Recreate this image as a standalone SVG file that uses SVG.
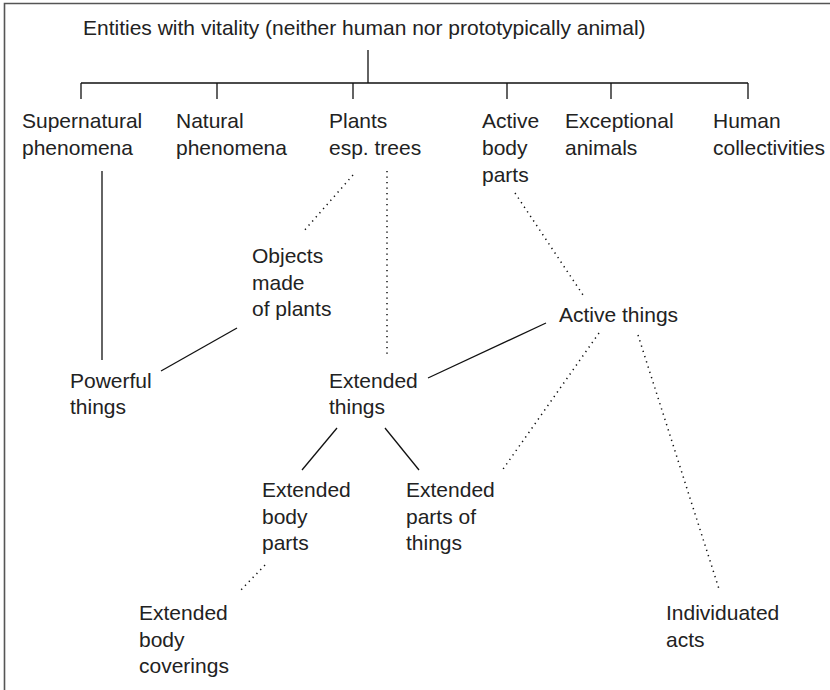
<svg xmlns="http://www.w3.org/2000/svg" width="830" height="690" viewBox="0 0 830 690">
<style>
text{font-family:"Liberation Sans",Arial,Helvetica,sans-serif;font-size:21px;fill:#222}
.s{stroke:#111;stroke-width:1.3;fill:none}
.d{stroke:#111;stroke-width:1.5;fill:none;stroke-dasharray:1.3 4.2}
.f{stroke:#555;stroke-width:1.6;fill:none}
</style>
<rect width="830" height="690" fill="#fff"/>
<path class="f" d="M4.5,690 V3.5 H830"/>
<g id="connectors">
<path class="s" d="M368,50 V83 M81,83 H748 M81,83 V99 M217,83 V99 M353,83 V99 M507,83 V99 M611,83 V99 M748,83 V99"/>
<line class="s" x1="102" y1="171" x2="102" y2="360"/>
<line class="d" x1="353" y1="175" x2="303" y2="232"/>
<line class="s" x1="237" y1="328" x2="161" y2="371"/>
<line class="d" x1="387" y1="171" x2="387" y2="357"/>
<line class="d" x1="515" y1="193" x2="583" y2="295"/>
<line class="s" x1="428" y1="378" x2="546" y2="323"/>
<line class="d" x1="599" y1="333" x2="501" y2="472"/>
<line class="d" x1="638" y1="335" x2="719" y2="589"/>
<line class="s" x1="337" y1="428" x2="302" y2="470"/>
<line class="s" x1="385" y1="428" x2="419" y2="470"/>
<line class="d" x1="265" y1="565" x2="240" y2="591"/>
</g>
<g id="root"><text x="83" y="35">Entities with vitality (neither human nor prototypically animal)</text></g>
<g id="supernatural"><text x="22" y="128">Supernatural</text><text x="22" y="155">phenomena</text></g>
<g id="natural"><text x="176" y="128">Natural</text><text x="176" y="155">phenomena</text></g>
<g id="plants"><text x="329" y="128">Plants</text><text x="329" y="155">esp. trees</text></g>
<g id="activebody"><text x="482" y="128">Active</text><text x="482" y="155">body</text><text x="482" y="182">parts</text></g>
<g id="exceptional"><text x="565" y="128">Exceptional</text><text x="565" y="155">animals</text></g>
<g id="human"><text x="713" y="128">Human</text><text x="713" y="155">collectivities</text></g>
<g id="objects"><text x="252" y="263">Objects</text><text x="252" y="289.5">made</text><text x="252" y="316">of plants</text></g>
<g id="active"><text x="559" y="322">Active things</text></g>
<g id="powerful"><text x="70" y="388">Powerful</text><text x="70" y="414">things</text></g>
<g id="extended"><text x="329" y="388">Extended</text><text x="329" y="414">things</text></g>
<g id="extbody"><text x="262" y="497">Extended</text><text x="262" y="523.5">body</text><text x="262" y="550">parts</text></g>
<g id="extparts"><text x="406" y="497">Extended</text><text x="406" y="523.5">parts of</text><text x="406" y="550">things</text></g>
<g id="extcover"><text x="139" y="620">Extended</text><text x="139" y="646.5">body</text><text x="139" y="673">coverings</text></g>
<g id="acts"><text x="666" y="620">Individuated</text><text x="666" y="646.5">acts</text></g>
</svg>
